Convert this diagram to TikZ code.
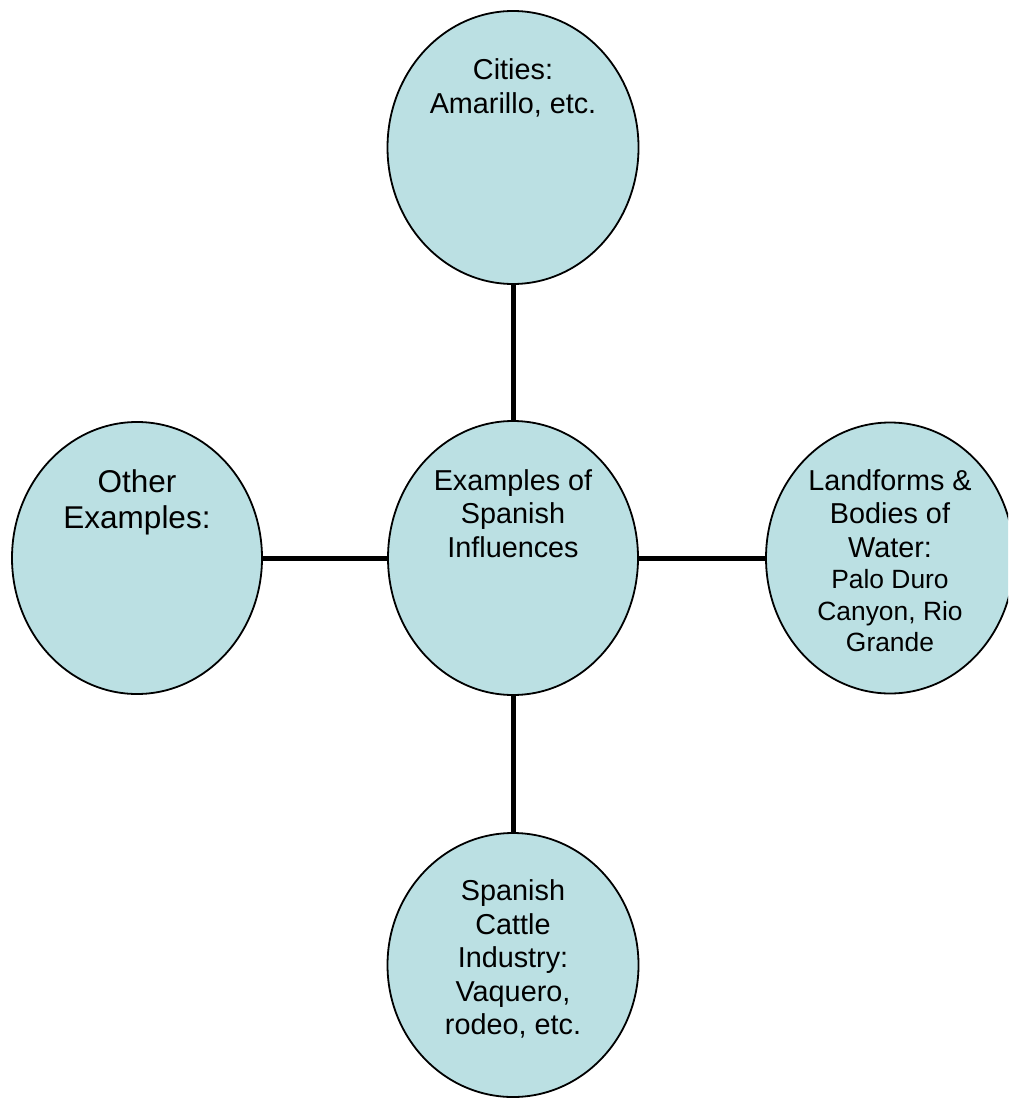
\documentclass[tikz,border=0pt]{standalone}
\usepackage{fontspec}
\setmainfont{Liberation Sans}
\usetikzlibrary{shapes.geometric}
\definecolor{bubble}{RGB}{187,224,227}
\newcommand\mainsz{\fontsize{14.4}{16.75}\selectfont}
\newcommand\bigsz{\fontsize{15.75}{18}\selectfont}
\newcommand\smallsz{\fontsize{13.2}{16}\selectfont}
\tikzset{
  bubblenode/.style={ellipse, draw=black, line width=0.9pt, fill=bubble, inner sep=0pt, outer sep=0pt},
  conn/.style={line width=2.5pt, draw=black},
  txt/.style={anchor=base, inner sep=0pt, outer sep=0pt}
}
\begin{document}
\begin{tikzpicture}[x=0.5pt, y=-0.5pt]
\clip (0,0) rectangle (1008,1101);
\fill[white] (0,0) rectangle (1008,1101);
% ellipses
\node[bubblenode, minimum width=125.5pt, minimum height=136.5pt] (top) at (513,147.5) {};
\node[bubblenode, minimum width=125pt, minimum height=137pt] (ctr) at (513,558) {};
\node[bubblenode, minimum width=125pt, minimum height=136pt] (lft) at (137,558) {};
\node[bubblenode, minimum width=124pt, minimum height=135.5pt] (rgt) at (890,558) {};
\node[bubblenode, minimum width=125.5pt, minimum height=132pt] (bot) at (513,965) {};
% connectors
\draw[conn] (top) -- (ctr);
\draw[conn] (ctr) -- (bot);
\draw[conn] (lft) -- (ctr);
\draw[conn] (ctr) -- (rgt);
% texts
\node[txt] (toptext) at (513,80) {\mainsz\begin{tabular}[t]{@{}c@{}}Cities:\\Amarillo, etc.\end{tabular}};
\node[txt] (ctrtext) at (513,490) {\mainsz\begin{tabular}[t]{@{}c@{}}Examples of\\Spanish\\Influences\end{tabular}};
\node[txt] (lfttext) at (137,492) {\bigsz\begin{tabular}[t]{@{}c@{}}Other\\Examples:\end{tabular}};
\node[txt] (rgttext) at (890,490) {\mainsz\begin{tabular}[t]{@{}c@{}}Landforms \&\\Bodies of\\Water:\\[-1pt]{\smallsz Palo Duro}\\[-1pt]{\smallsz Canyon, Rio}\\[-1pt]{\smallsz Grande}\end{tabular}};
\node[txt] (bottext) at (513,900.5) {\mainsz\begin{tabular}[t]{@{}c@{}}Spanish\\Cattle\\Industry:\\Vaquero,\\rodeo, etc.\end{tabular}};
\end{tikzpicture}
\end{document}
